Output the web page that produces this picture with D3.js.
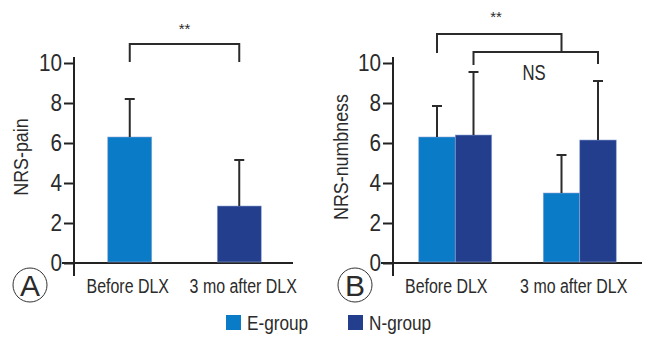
<!DOCTYPE html>
<html>
<head>
<meta charset="utf-8">
<script src="https://cdn.jsdelivr.net/npm/d3@7"></script>
<style>
  body { margin: 0; background: #fff; }
  text { font-family: "Liberation Sans", Arial, sans-serif; fill: #2b2b2b; }
  .axis line, .axis path { stroke: #222; stroke-width: 2; }
</style>
</head>
<body>
<div id="chart"></div>
<script>
// data
const categories = ["Before DLX", "3 mo after DLX"];
const groups = ["E-group", "N-group"];
const yTicks = [0, 2, 4, 6, 8, 10];

const painMean = [6.3, 2.85];
const painSD = [1.9, 2.3];

const numbEMean = [6.3, 3.5];
const numbESD = [1.55, 1.9];
const numbNMean = [6.4, 6.15];
const numbNSD = [3.15, 2.95];

const colors = {"E-group": "#0a7bc6", "N-group": "#233e8c"};

const svg = d3.select("#chart").append("svg")
    .attr("width", 655)
    .attr("height", 348);

// squeeze text horizontally to get the condensed look of the original
function condense(sel, f) {
    sel.each(function() {
        const t = d3.select(this);
        const x = +t.attr("x") || 0, yy = +t.attr("y") || 0;
        const tr = t.attr("transform") || "";
        t.attr("transform", `${tr} translate(${x},${yy}) scale(${f},1)`)
            .attr("x", 0).attr("y", 0);
    });
}

// shared y scale (both panels use the same vertical layout)
const y = d3.scaleLinear().domain([0, 10]).range([263, 63]);

function drawAxes(g, x0, x1, title, titleX) {
    g.append("line")
        .attr("x1", x0 - 12).attr("x2", x1)
        .attr("y1", y(0)).attr("y2", y(0))
        .attr("stroke", "#222").attr("stroke-width", 2);
    g.append("line")
        .attr("x1", x0).attr("x2", x0)
        .attr("y1", y(10.3)).attr("y2", y(-0.65))
        .attr("stroke", "#222").attr("stroke-width", 2);
    const ax = g.append("g")
        .attr("class", "axis")
        .attr("transform", `translate(${x0},0)`)
        .call(d3.axisLeft(y).tickValues(yTicks).tickSize(10).tickPadding(2).tickSizeOuter(0));
    ax.select(".domain").remove();
    ax.selectAll("text").style("font-size", "23px").attr("fill", "#2b2b2b").call(condense, 0.9);
    g.append("text")
        .attr("transform", `translate(${titleX},${y(5.3)}) rotate(-90)`)
        .attr("text-anchor", "middle")
        .style("font-size", "21px")
        .text(title)
        .call(condense, 0.85);
}

function errorBar(g, cx, mean, sd) {
    g.append("line")
        .attr("x1", cx).attr("x2", cx)
        .attr("y1", y(mean)).attr("y2", y(mean + sd))
        .attr("stroke", "#2b2b2b").attr("stroke-width", 2);
    g.append("line")
        .attr("x1", cx - 5).attr("x2", cx + 5)
        .attr("y1", y(mean + sd)).attr("y2", y(mean + sd))
        .attr("stroke", "#2b2b2b").attr("stroke-width", 2);
}

function bracket(g, xa, xb, yTop, yLeft, yRight) {
    g.append("path")
        .attr("d", `M${xa},${y(yLeft)}V${y(yTop)}H${xb}V${y(yRight)}`)
        .attr("fill", "none")
        .attr("stroke", "#2b2b2b")
        .attr("stroke-width", 2);
}

function panelLetter(g, cx, cy, letter) {
    g.append("circle")
        .attr("cx", cx).attr("cy", cy).attr("r", 17)
        .attr("fill", "none").attr("stroke", "#333").attr("stroke-width", 1);
    g.append("text")
        .attr("x", cx).attr("y", cy + 11)
        .attr("text-anchor", "middle")
        .style("font-size", "30px")
        .text(letter);
}

// ---- Panel A: NRS-pain ----
const gA = svg.append("g");
const xA = d3.scalePoint().domain(categories).range([74, 293]).padding(0.5);
const barWA = 44;

drawAxes(gA, 74, 293, "NRS-pain", 28);

gA.selectAll(".barA")
    .data(categories)
    .join("rect")
    .attr("class", "barA")
    .attr("x", d => xA(d) + 1 - barWA / 2)
    .attr("y", (d, i) => y(painMean[i]))
    .attr("width", barWA)
    .attr("height", (d, i) => y(0) - y(painMean[i]) - 1)
    .attr("fill", (d, i) => colors[groups[i]])
    .attr("stroke", "#8fa6d8")
    .attr("stroke-width", 0.6);

categories.forEach((c, i) => errorBar(gA, xA(c) + 1, painMean[i], painSD[i]));

gA.selectAll(".xlabA")
    .data(categories)
    .join("text")
    .attr("x", (d, i) => xA(d) - 1 + i * 6)
    .attr("y", 293)
    .attr("text-anchor", "middle")
    .style("font-size", "21px")
    .text(d => d)
    .call(condense, 0.76);

bracket(gA, xA(categories[0]) + 1, xA(categories[1]) + 1, 10.95, 10.05, 10.05);
gA.append("text")
    .attr("x", (xA(categories[0]) + xA(categories[1])) / 2 + 1)
    .attr("y", 34)
    .attr("text-anchor", "middle")
    .attr("fill", "#555")
    .style("font-size", "15px")
    .text("**");

panelLetter(gA, 30, 285, "A");

// ---- Panel B: NRS-numbness ----
const gB = svg.append("g");
const xB = d3.scalePoint().domain(categories).range([393, 642]).padding(0.5);
const xSub = d3.scaleBand().domain(groups).range([-36.5, 36.5]);
const numbMean = {"E-group": numbEMean, "N-group": numbNMean};
const numbSD = {"E-group": numbESD, "N-group": numbNSD};

drawAxes(gB, 393, 642, "NRS-numbness", 348);

const cells = [];
categories.forEach((c, i) => groups.forEach(gname => cells.push({c, i, g: gname})));

gB.selectAll(".barB")
    .data(cells)
    .join("rect")
    .attr("class", "barB")
    .attr("x", d => xB(d.c) + xSub(d.g))
    .attr("y", d => y(numbMean[d.g][d.i]))
    .attr("width", xSub.bandwidth())
    .attr("height", d => y(0) - y(numbMean[d.g][d.i]) - 1)
    .attr("fill", d => colors[d.g])
    .attr("stroke", "#8fa6d8")
    .attr("stroke-width", 0.6);

cells.forEach(d => errorBar(gB, xB(d.c) + xSub(d.g) + xSub.bandwidth() / 2,
    numbMean[d.g][d.i], numbSD[d.g][d.i]));

gB.selectAll(".xlabB")
    .data(categories)
    .join("text")
    .attr("x", (d, i) => xB(d) - 9 + i * 3)
    .attr("y", 293)
    .attr("text-anchor", "middle")
    .style("font-size", "21px")
    .text(d => d)
    .call(condense, 0.76);

const cE = c => xB(c) + xSub("E-group") + xSub.bandwidth() / 2;
const cN = c => xB(c) + xSub("N-group") + xSub.bandwidth() / 2;
bracket(gB, cE(categories[0]), cE(categories[1]), 11.45, 10.5, 10.55);
bracket(gB, cN(categories[0]), cN(categories[1]), 10.55, 9.9, 9.95);
gB.append("text")
    .attr("x", 496)
    .attr("y", 22)
    .attr("text-anchor", "middle")
    .attr("fill", "#555")
    .style("font-size", "15px")
    .text("**");
gB.append("text")
    .attr("x", 534)
    .attr("y", 80)
    .attr("text-anchor", "middle")
    .style("font-size", "22px")
    .text("NS")
    .call(condense, 0.76);

panelLetter(gB, 355, 285, "B");

// ---- legend ----
const legendX = [226, 348];
const legend = svg.selectAll(".legend")
    .data(groups)
    .join("g")
    .attr("class", "legend")
    .attr("transform", (d, i) => `translate(${legendX[i]},315)`);
legend.append("rect")
    .attr("width", 15).attr("height", 15)
    .attr("fill", d => colors[d]);
legend.append("text")
    .attr("x", 21).attr("y", 15)
    .style("font-size", "20px")
    .text(d => d)
    .call(condense, 0.86);
</script>
</body>
</html>
